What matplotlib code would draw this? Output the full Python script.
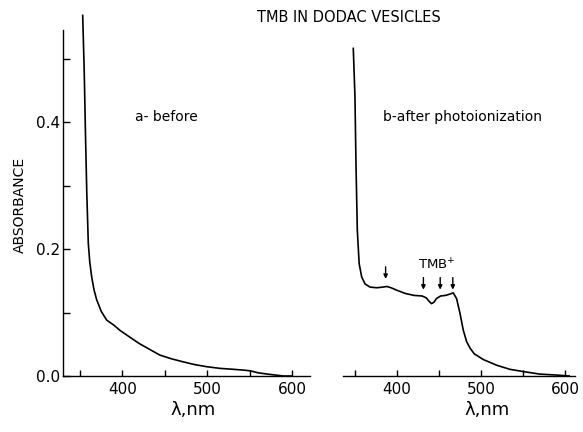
import numpy as np
import matplotlib
matplotlib.use("Agg")
import matplotlib.pyplot as plt
from matplotlib.ticker import MultipleLocator

plt.rcParams['font.family'] = ['DejaVu Sans']

# curve a - before photoionization
wl_a = [353.2, 355, 356.5, 358, 359.8, 361.5, 363.8, 366.5, 369.7, 375, 381.5,
        390, 397, 410, 420, 432, 444, 458, 471, 485, 499, 515, 531, 545, 551,
        560, 571, 580, 590, 600]
abs_a = [0.568, 0.48, 0.38, 0.29, 0.209, 0.18, 0.156, 0.136, 0.12, 0.102, 0.088,
         0.08, 0.072, 0.06, 0.051, 0.042, 0.033, 0.027, 0.0225, 0.018, 0.0147,
         0.012, 0.0105, 0.009, 0.008, 0.005, 0.003, 0.0015, 0.0, 0.0]

# curve b - after photoionization
wl_b = [348, 350, 351.2, 352.8, 355, 358, 362, 368, 376, 383, 388, 393, 400,
        410, 420, 430, 435, 438, 441, 444, 447, 452, 458, 463, 467, 471, 475,
        479, 483, 487, 492, 502.7, 518.7, 534.5, 550.4, 570, 590, 605]
abs_b = [0.516, 0.44, 0.335, 0.23, 0.177, 0.156, 0.145, 0.14, 0.139, 0.14,
         0.141, 0.139, 0.135, 0.13, 0.127, 0.126, 0.123, 0.118, 0.114, 0.116,
         0.122, 0.126, 0.127, 0.129, 0.131, 0.122, 0.099, 0.072, 0.054, 0.044,
         0.035, 0.026, 0.017, 0.0105, 0.007, 0.003, 0.0015, 0.0]

# arrow positions (nm) marking TMB+ bands
arrow_wl = [386.5, 431.5, 451.5, 466.5]

fig = plt.figure(figsize=(5.83, 4.32), dpi=100)
ax1 = fig.add_axes([63 / 583, 1 - 376 / 432, (310 - 63) / 583, 346 / 432])
ax2 = fig.add_axes([342.7 / 583, 1 - 376 / 432, (575 - 342.7) / 583, 346 / 432])

ytop = 0.545
ax1.plot(wl_a, abs_a, color='black', lw=1.2, clip_on=False)
ax2.plot(wl_b, abs_b, color='black', lw=1.2, clip_on=False)

ax1.set_xlim(330, 621)
ax2.set_xlim(335.4, 612)
for ax in (ax1, ax2):
    ax.set_ylim(0, ytop)
    ax.spines['top'].set_visible(False)
    ax.spines['right'].set_visible(False)
    ax.spines['bottom'].set_linewidth(1.0)
    ax.spines['left'].set_linewidth(1.0)
    ax.xaxis.set_major_locator(MultipleLocator(100))
    ax.xaxis.set_minor_locator(MultipleLocator(50))
    ax.tick_params(axis='x', which='both', direction='in', length=4, width=1.0,
                   labelsize=11, pad=4)

ax1.set_yticks([0.0, 0.2, 0.4])
ax1.set_yticklabels(['0.0', '0.2', '0.4'])
ax1.yaxis.set_minor_locator(MultipleLocator(0.1))
ax1.tick_params(axis='y', which='both', direction='in', length=5, width=1.0,
                labelsize=11, pad=2)

ax2.spines['left'].set_visible(False)
ax2.set_yticks([])

ax1.text(0.526, -0.098, 'λ,nm', transform=ax1.transAxes, ha='center', va='center',
         fontsize=13)
ax2.text(0.621, -0.098, 'λ,nm', transform=ax2.transAxes, ha='center', va='center',
         fontsize=13)

fig.text(20 / 583, 1 - 205 / 432, 'ABSORBANCE', rotation=90, ha='center',
         va='center', fontsize=10)
fig.text(349 / 583, 1 - 17 / 432, 'TMB IN DODAC VESICLES', ha='center',
         va='center', fontsize=10.5)

ax1.text(415, 0.408, 'a- before', ha='left', va='center', fontsize=10)
ax2.text(383.3, 0.408, 'b-after photoionization', ha='left', va='center',
         fontsize=10)

# arrows and TMB+ label
for i, w in enumerate(arrow_wl):
    if i == 0:
        tail, tip = 0.172, 0.153
    else:
        tail, tip = 0.155, 0.136
    ax2.annotate('', xy=(w, tip), xytext=(w, tail),
                 arrowprops=dict(arrowstyle='-|>', color='black', lw=1.0,
                                 mutation_scale=6, shrinkA=0, shrinkB=0))
ax2.text(447.6, 0.175, 'TMB$^{+}$', ha='center', va='center', fontsize=9.5)

fig.savefig('out.png', dpi=100)
